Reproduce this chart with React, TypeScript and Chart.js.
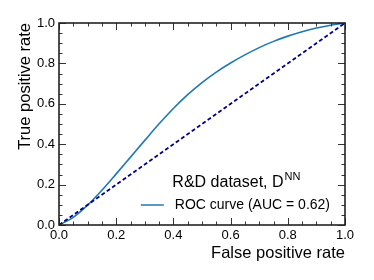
import React, { useEffect, useRef } from "react";
import { Chart, registerables } from "chart.js";

Chart.register(...registerables);

const FONT = "'Liberation Sans', Arial, sans-serif";

// ROC curve samples
const fprValues = [0, 0.05, 0.1, 0.15, 0.2, 0.25, 0.3, 0.35, 0.4, 0.45, 0.5, 0.55, 0.6, 0.65, 0.7, 0.75, 0.8, 0.85, 0.9, 0.95, 1.0];
const tprValues = [0, 0.038, 0.098, 0.172, 0.253, 0.336, 0.419, 0.501, 0.577, 0.645, 0.705, 0.757, 0.802, 0.842, 0.878, 0.909, 0.935, 0.957, 0.975, 0.989, 1.0];
const diagX = [0, 1];
const diagY = [0, 1];

const rocLabel = "ROC curve (AUC = 0.62)";
const legendTitle = "R&D dataset, D";
const legendSup = "NN";
const xTitle = "False positive rate";
const yTitle = "True positive rate";
const axisMin = 0;
const axisMax = 1;
const majorStep = 0.2;
const minorStep = 0.05;

const frameAndTicks = {
  id: "frameAndTicks",
  afterDatasetsDraw(chart: any) {
    const { ctx, chartArea: a, scales } = chart;
    const xs = scales.x;
    const ys = scales.y;
    ctx.save();
    ctx.strokeStyle = "#333";
    ctx.lineWidth = 1;
    const n = Math.round((axisMax - axisMin) / minorStep);
    const every = Math.round(majorStep / minorStep);
    for (let i = 0; i <= n; i++) {
      const v = axisMin + i * minorStep;
      const len = i % every === 0 ? 7 : 3.5;
      const px = Math.round(xs.getPixelForValue(v)) + 0.5;
      ctx.beginPath();
      ctx.moveTo(px, a.bottom);
      ctx.lineTo(px, a.bottom - len);
      ctx.moveTo(px, a.top);
      ctx.lineTo(px, a.top + len);
      ctx.stroke();
      const py = Math.round(ys.getPixelForValue(v)) + 0.5;
      ctx.beginPath();
      ctx.moveTo(a.left, py);
      ctx.lineTo(a.left + len, py);
      ctx.moveTo(a.right, py);
      ctx.lineTo(a.right - len, py);
      ctx.stroke();
    }
    ctx.strokeStyle = "#222";
    ctx.lineWidth = 1.6;
    ctx.strokeRect(a.left, a.top, a.right - a.left, a.bottom - a.top);
    ctx.restore();
  },
};

const customLegend = {
  id: "customLegend",
  afterDraw(chart: any) {
    const { ctx, chartArea: a } = chart;
    const ds = chart.data.datasets[0];
    ctx.save();
    const entryY = a.bottom - 20;
    const textRight = a.right - 15;
    ctx.font = `14px ${FONT}`;
    const tw = ctx.measureText(ds.label).width;
    const textLeft = textRight - tw;
    const lineR = textLeft - 11;
    const lineL = lineR - 23;
    ctx.strokeStyle = ds.borderColor;
    ctx.lineWidth = 1.5;
    ctx.beginPath();
    ctx.moveTo(lineL, entryY);
    ctx.lineTo(lineR, entryY);
    ctx.stroke();
    ctx.fillStyle = "#000";
    ctx.textBaseline = "middle";
    ctx.textAlign = "left";
    ctx.fillText(ds.label, textLeft, entryY);
    const center = (lineL + textRight) / 2;
    ctx.font = `16px ${FONT}`;
    const t1 = ctx.measureText(legendTitle).width;
    ctx.font = `11px ${FONT}`;
    const t2 = ctx.measureText(legendSup).width;
    const total = t1 + t2 + 1;
    const tx = center - total / 2 + 1;
    const titleY = entryY - 22;
    ctx.font = `16px ${FONT}`;
    ctx.fillText(legendTitle, tx, titleY);
    ctx.font = `11px ${FONT}`;
    ctx.fillText(legendSup, tx + t1 + 1, titleY - 6);
    ctx.restore();
  },
};

export default function App() {
  const ref = useRef<HTMLCanvasElement | null>(null);
  useEffect(() => {
    if (!ref.current) return;
    const tickFont = { family: FONT, size: 13 };
    const titleFont = { family: FONT, size: 16.5 };
    const chart = new Chart(ref.current, {
      type: "scatter",
      data: {
        datasets: [
          {
            label: rocLabel,
            data: fprValues.map((x, i) => ({ x, y: tprValues[i] })),
            showLine: true,
            borderColor: "#1f77b4",
            backgroundColor: "#1f77b4",
            borderWidth: 1.6,
            pointRadius: 0,
            cubicInterpolationMode: "monotone",
            order: 2,
          },
          {
            label: "diagonal",
            data: diagX.map((x, i) => ({ x, y: diagY[i] })),
            showLine: true,
            borderColor: "#000080",
            backgroundColor: "#000080",
            borderWidth: 1.7,
            borderDash: [4, 2.5],
            pointRadius: 0,
            order: 1,
          },
        ],
      },
      options: {
        animation: false,
        responsive: true,
        maintainAspectRatio: false,
        layout: { padding: { top: 23, right: 29, left: 0, bottom: 0 } },
        plugins: { legend: { display: false }, tooltip: { enabled: false } },
        scales: {
          x: {
            type: "linear",
            min: axisMin,
            max: axisMax,
            grid: { display: false, drawTicks: false },
            border: { display: false },
            ticks: {
              stepSize: majorStep,
              padding: 3,
              color: "#000",
              font: tickFont,
              maxRotation: 0,
              callback: (v: any) => Number(v).toFixed(1),
            },
            title: {
              display: true,
              text: xTitle,
              align: "end",
              color: "#000",
              font: titleFont,
              padding: { top: 0, bottom: 17 },
            },
            afterFit: (s: any) => {
              s.height = 55;
            },
          },
          y: {
            type: "linear",
            min: axisMin,
            max: axisMax,
            grid: { display: false, drawTicks: false },
            border: { display: false },
            ticks: {
              stepSize: majorStep,
              padding: 4,
              color: "#000",
              font: tickFont,
              callback: (v: any) => Number(v).toFixed(1),
            },
            title: {
              display: true,
              text: yTitle,
              align: "end",
              color: "#000",
              font: titleFont,
              padding: { top: 15.5, bottom: 0 },
            },
            afterFit: (s: any) => {
              s.width = 59;
            },
          },
        },
      },
      plugins: [frameAndTicks, customLegend],
    });
    return () => chart.destroy();
  }, []);
  return (
    <div style={{ position: "fixed", left: 0, top: 0, width: 374, height: 280, background: "#fff" }}>
      <canvas ref={ref} />
    </div>
  );
}
